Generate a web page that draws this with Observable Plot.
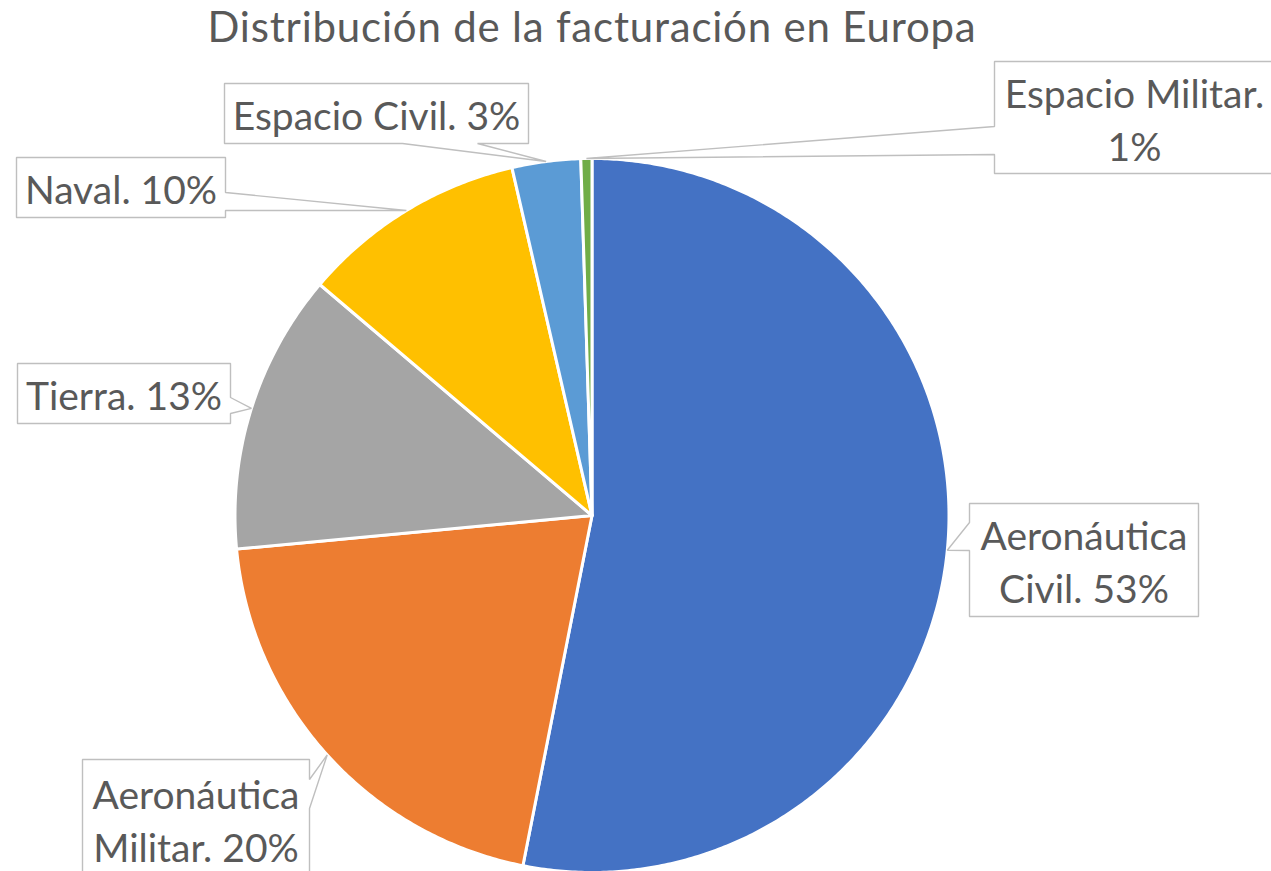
<!DOCTYPE html>
<html>
<head>
<meta charset="utf-8">
<script src="https://cdn.jsdelivr.net/npm/d3@7"></script>
<script src="https://cdn.jsdelivr.net/npm/@observablehq/plot@0.6"></script>
<style>
  html, body { margin: 0; padding: 0; background: #fff; }
  #chart svg { display: block; }
</style>
</head>
<body>
<div id="chart"></div>
<script>
// ---- data ----
const titleText = "Distribución de la facturación en Europa";
const categories = ["Aeronáutica Civil", "Aeronáutica Militar", "Tierra", "Naval", "Espacio Civil", "Espacio Militar"];
const shares = [53.1, 20.4, 12.7, 10.2, 3.1, 0.5];
const labelTexts = ["Aeronáutica\nCivil. 53%", "Aeronáutica\nMilitar. 20%", "Tierra. 13%", "Naval. 10%", "Espacio Civil. 3%", "Espacio Militar.\n1%"];

// ---- layout ----
const W = 1271, H = 871;
const cx = 591.5, cy = 515, R = 357;
const colors = ["#4472C4", "#ED7D31", "#A5A5A5", "#FFC000", "#5B9BD5", "#70AD47"];
const FONT = "Lato, 'Open Sans', sans-serif";
// callout boxes: [x0, y0, x1, y1], side of pointer, pointer base span
const boxes = [
  {box: [969, 503, 1198, 616], side: "left", base: [522, 550]},
  {box: [82, 759, 309, 890], side: "right", base: [779, 808]},
  {box: [17, 363, 230, 423], side: "right", base: [397, 413]},
  {box: [16, 157, 225, 217], side: "right", base: [192, 210]},
  {box: [224, 83, 528, 143], side: "bottom", base: [402, 477]},
  {box: [994, 61, 1274, 173], side: "left", base: [126, 154]}
];

const total = d3.sum(shares);
const pt = (a, r) => [cx + r * Math.sin(a), cy - r * Math.cos(a)];

// pie slice polygons
const slicePts = [];
const tips = [];
let cum = 0;
shares.forEach((v, i) => {
  const a0 = cum / total * 2 * Math.PI;
  cum += v;
  const a1 = cum / total * 2 * Math.PI;
  const n = Math.max(2, Math.ceil((a1 - a0) / (Math.PI / 360)));
  slicePts.push({cat: categories[i], x: cx, y: cy});
  for (let k = 0; k <= n; k++) {
    const [x, y] = pt(a0 + (a1 - a0) * k / n, R);
    slicePts.push({cat: categories[i], x, y});
  }
  tips.push(pt((a0 + a1) / 2, R));
});

// callout polygons
const calloutPts = [];
boxes.forEach((b, i) => {
  const [x0, y0, x1, y1] = b.box;
  const [t0, t1] = tips[i];
  const [b0, b1] = b.base;
  let p;
  if (b.side === "left") {
    p = [[x0, y0], [x1, y0], [x1, y1], [x0, y1], [x0, b1], [t0, t1], [x0, b0]];
  } else if (b.side === "right") {
    p = [[x0, y0], [x1, y0], [x1, b0], [t0, t1], [x1, b1], [x1, y1], [x0, y1]];
  } else {
    p = [[x0, y0], [x1, y0], [x1, y1], [b1, y1], [t0, t1], [b0, y1], [x0, y1]];
  }
  p.forEach(([x, y]) => calloutPts.push({cat: categories[i], x, y}));
});

const labels = categories.map((c, i) => ({
  cat: c,
  text: labelTexts[i],
  x: (boxes[i].box[0] + boxes[i].box[2]) / 2,
  y: (boxes[i].box[1] + Math.min(boxes[i].box[3], 871)) / 2
}));
// Aeronáutica Militar box is clipped at bottom; center text on its visible lines
labels[1].y = 818;

const chart = Plot.plot({
  width: W,
  height: H,
  margin: 0,
  x: {domain: [0, W], range: [0, W], axis: null},
  y: {domain: [0, H], range: [0, H], axis: null},
  color: {domain: categories, range: colors},
  style: {background: "white", overflow: "hidden"},
  marks: [
    Plot.line(slicePts, {x: "x", y: "y", z: "cat", fill: "cat", stroke: "white", strokeWidth: 3, strokeLinejoin: "round", curve: "linear-closed"}),
    Plot.line(calloutPts, {x: "x", y: "y", z: "cat", fill: "white", stroke: "#BFBFBF", strokeWidth: 1.4, strokeLinejoin: "miter", curve: "linear-closed"}),
    Plot.text(labels, {x: "x", y: "y", text: "text", fill: "#595959", fontSize: 39, fontFamily: FONT, lineHeight: 1.36, textAnchor: "middle", lineAnchor: "middle"}),
    Plot.text([titleText], {x: () => cx, y: () => 28, text: d => d, fill: "#595959", fontSize: 42, fontFamily: FONT, textAnchor: "middle", lineAnchor: "middle"})
  ]
});
// slight letter spacing on the title to match the reference width
const textGroups = chart.querySelectorAll('g[aria-label="text"]');
if (textGroups.length) textGroups[textGroups.length - 1].style.letterSpacing = "0.8px";
document.getElementById("chart").appendChild(chart);
</script>
</body>
</html>
